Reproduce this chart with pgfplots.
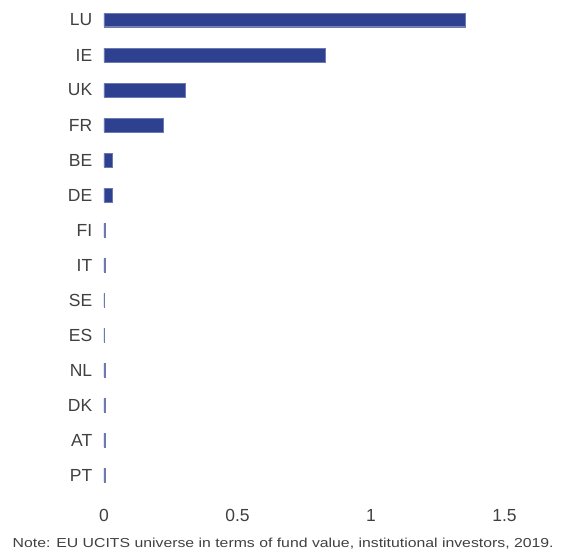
\documentclass[border=0pt]{standalone}
\usepackage{pgfplots}
\pgfplotsset{compat=1.18}
\usepackage{fontspec}
\setmainfont{Liberation Sans}
\definecolor{barblue}{HTML}{2E4190}
\definecolor{txt}{HTML}{404040}
\begin{document}
\begin{tikzpicture}[x=1pt,y=1pt]
\useasboundingbox (-104,-58.5) rectangle (471,492.5);
\begin{axis}[
  at={(0pt,0pt)}, anchor=south west,
  scale only axis,
  width=427.2pt, height=490pt,
  xmin=0, xmax=1.6,
  ymin=-0.5, ymax=13.5,
  y dir=reverse,
  xbar, bar width=13.5pt,
  axis line style={draw=none},
  tick style={draw=none},
  xtick={0,0.5,1,1.5},
  ytick={0,...,13},
  yticklabels={LU,IE,UK,FR,BE,DE,FI,IT,SE,ES,NL,DK,AT,PT},
  ticklabel style={font=\fontsize{17.5}{20}\selectfont, text=txt},
  /pgf/number format/assume math mode=true,
  yticklabel style={xshift=-4pt},
  xticklabel style={yshift=-13pt},
  clip=false,
]
\addplot[fill=barblue, draw=barblue!70!white, line width=0.3pt] coordinates {
(1.352,0) (0.828,1) (0.303,2) (0.221,3) (0.030,4) (0.030,5)
(0.006,6) (0.006,7) (0.002,8) (0.002,9) (0.005,10) (0.005,11) (0.005,12) (0.005,13)
};
\end{axis}
\node[anchor=west, text=txt, font=\fontsize{13}{15}\selectfont, inner sep=0pt, xscale=1.216] at (-91.5,-51.5) {Note: EU UCITS universe in terms of fund value, institutional investors, 2019.};
\end{tikzpicture}
\end{document}
